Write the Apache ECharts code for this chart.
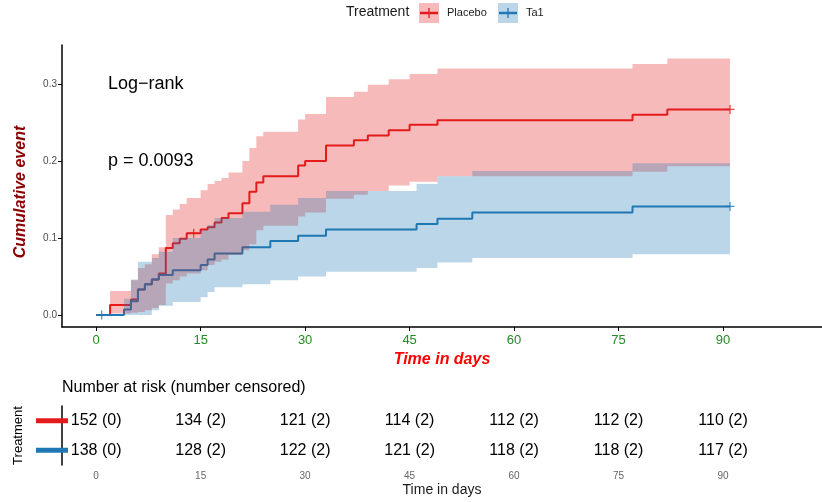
<!DOCTYPE html>
<html>
<head>
<meta charset="utf-8">
<script src="https://cdn.jsdelivr.net/npm/echarts@6/dist/echarts.min.js"></script>
<style>
  html, body { margin: 0; padding: 0; background: #fff; }
  #chart { width: 822px; height: 502px; }
</style>
</head>
<body>
<div id="chart"></div>
<script>
// cumulative event curves (day where each step starts)
var placeboTime = [0, 2, 5, 6, 7, 8, 9, 10, 11, 12, 13, 15, 16, 17, 18, 19, 21, 22, 23, 24, 29, 30, 33, 37, 39, 42, 45, 49, 77, 82, 91];
var placeboEst  = [0, 0.013, 0.020, 0.033, 0.040, 0.046, 0.054, 0.087, 0.093, 0.099, 0.106, 0.111, 0.114, 0.120, 0.126, 0.132, 0.145, 0.160, 0.172, 0.180, 0.194, 0.200, 0.220, 0.227, 0.233, 0.240, 0.247, 0.253, 0.260, 0.267, 0.267];
var placeboLo   = [0, 0.002, 0.003, 0.004, 0.006, 0.009, 0.013, 0.041, 0.045, 0.050, 0.054, 0.058, 0.065, 0.069, 0.072, 0.078, 0.084, 0.092, 0.110, 0.116, 0.128, 0.133, 0.151, 0.156, 0.161, 0.168, 0.173, 0.180, 0.186, 0.193, 0.193];
var placeboHi   = [0, 0.031, 0.045, 0.061, 0.066, 0.079, 0.088, 0.130, 0.137, 0.144, 0.152, 0.162, 0.170, 0.174, 0.178, 0.185, 0.200, 0.217, 0.232, 0.238, 0.254, 0.261, 0.283, 0.290, 0.299, 0.306, 0.313, 0.320, 0.326, 0.333, 0.333];

var ta1Time = [0, 4, 5, 6, 7, 8, 9, 11, 15, 16, 17, 21, 25, 29, 33, 46, 49, 54, 77, 91];
var ta1Est  = [0, 0.007, 0.018, 0.033, 0.040, 0.046, 0.052, 0.058, 0.065, 0.072, 0.080, 0.088, 0.096, 0.103, 0.111, 0.118, 0.125, 0.133, 0.141, 0.141];
var ta1Lo   = [0, 0, 0, 0, 0, 0.006, 0.012, 0.017, 0.023, 0.030, 0.036, 0.040, 0.045, 0.050, 0.056, 0.061, 0.068, 0.074, 0.079, 0.079];
var ta1Hi   = [0, 0.021, 0.046, 0.069, 0.069, 0.074, 0.082, 0.100, 0.110, 0.117, 0.126, 0.134, 0.143, 0.152, 0.161, 0.170, 0.180, 0.187, 0.197, 0.197];

var placeboCensor = [[14, 0.106], [91, 0.267]];
var ta1Censor = [[0.8, 0], [91, 0.141]];

var pvalText = ['Log\u2212rank', 'p = 0.0093'];
var pvalAt = [[1.7, 0.3], [1.7, 0.2]];

var timeTicks = [0, 15, 30, 45, 60, 75, 90];
var yTicks = [0, 0.1, 0.2, 0.3];

// risk table
var riskDays = [0, 15, 30, 45, 60, 75, 90];
var placeboRisk = [152, 134, 121, 114, 112, 112, 110];
var placeboCens = [0, 2, 2, 2, 2, 2, 2];
var ta1Risk = [138, 128, 122, 121, 118, 118, 117];
var ta1Cens = [0, 2, 2, 2, 2, 2, 2];

var red = '#E41A1C';
var blue = '#1F78B4';
var redFill = 'rgba(228,26,28,0.3)';
var blueFill = 'rgba(31,120,180,0.3)';
var plusPath = 'path://M0,4.3h10v1.4h-10z M4.3,0h1.4v10h-1.4z';

var mychart = echarts.init(document.getElementById('chart'));

function stepLine(time, est, color) {
  return {
    type: 'line', step: 'end', xAxisIndex: 0, yAxisIndex: 0, z: 2,
    symbol: 'none', silent: true,
    lineStyle: { color: color, width: 2 },
    itemStyle: { color: color },
    data: time.map(function (t, i) { return [t, est[i]]; })
  };
}

function band(time, lo, hi, fill) {
  return {
    type: 'custom', xAxisIndex: 0, yAxisIndex: 0, z: 3, silent: true,
    data: [[time[0], lo[0]]],
    renderItem: function (params, api) {
      var pts = [];
      for (var i = 0; i < time.length - 1; i++) {
        pts.push(api.coord([time[i], hi[i]]));
        pts.push(api.coord([time[i + 1], hi[i]]));
      }
      for (var j = time.length - 2; j >= 0; j--) {
        pts.push(api.coord([time[j + 1], lo[j]]));
        pts.push(api.coord([time[j], lo[j]]));
      }
      return { type: 'polygon', shape: { points: pts }, style: { fill: fill } };
    }
  };
}

function censor(points, color) {
  return {
    type: 'scatter', xAxisIndex: 0, yAxisIndex: 0, z: 2, silent: true,
    symbol: plusPath, symbolSize: 9,
    itemStyle: { color: color },
    data: points
  };
}

function textSeries(xi, yi, points, texts, size, align) {
  return {
    type: 'custom', xAxisIndex: xi, yAxisIndex: yi, z: 5, silent: true,
    data: points,
    renderItem: function (params, api) {
      var p = api.coord([api.value(0), api.value(1)]);
      return {
        type: 'text', x: p[0], y: p[1],
        style: {
          text: texts[params.dataIndex], fill: '#000', fontSize: size,
          fontFamily: 'Liberation Sans', align: align, verticalAlign: 'middle'
        }
      };
    }
  };
}

var placeboLabels = placeboRisk.map(function (n, i) { return n + ' (' + placeboCens[i] + ')'; });
var ta1Labels = ta1Risk.map(function (n, i) { return n + ' (' + ta1Cens[i] + ')'; });

var option = {
  animation: false,
  textStyle: { fontFamily: 'Liberation Sans' },
  title: {
    text: 'Number at risk (number censored)',
    left: 62, top: 380, padding: 0,
    textStyle: { fontSize: 16, fontWeight: 'normal', color: '#000' }
  },
  grid: [
    { left: 62, right: 0, top: 45, height: 282 },
    { left: 62, right: 0, top: 406, height: 59 }
  ],
  xAxis: [
    {
      type: 'value', gridIndex: 0, min: -4.9, max: 104.2,
      axisLine: { onZero: false, lineStyle: { color: '#000', width: 1.5 } },
      axisTick: { customValues: timeTicks, length: 4, lineStyle: { color: '#000' } },
      axisLabel: { customValues: timeTicks, color: '#228B22', fontSize: 13, margin: 7 },
      splitLine: { show: false },
      name: 'Time in days', nameLocation: 'middle', nameGap: 22,
      nameTextStyle: { color: '#FF0000', fontSize: 16, fontWeight: 'bold', fontStyle: 'italic' }
    },
    {
      type: 'value', gridIndex: 1, min: -4.9, max: 104.2,
      axisLine: { onZero: false, lineStyle: { color: '#000', width: 1.5 } },
      axisTick: { customValues: timeTicks, length: 4, lineStyle: { color: '#000' } },
      axisLabel: { customValues: timeTicks, color: '#666', fontSize: 10, margin: 6 },
      splitLine: { show: false },
      name: 'Time in days', nameLocation: 'middle', nameGap: 18,
      nameTextStyle: { color: '#1a1a1a', fontSize: 14 }
    }
  ],
  yAxis: [
    {
      type: 'value', gridIndex: 0, min: -0.0156, max: 0.3506,
      axisLine: { show: true, onZero: false, lineStyle: { color: '#000', width: 1.5 } },
      axisTick: { show: true, customValues: yTicks, length: 4, lineStyle: { color: '#000' } },
      axisLabel: {
        customValues: yTicks, color: '#4d4d4d', fontSize: 10, margin: 5,
        formatter: function (v) { return v.toFixed(1); }
      },
      splitLine: { show: false },
      name: 'Cumulative event', nameLocation: 'middle', nameGap: 33, nameRotate: 90,
      nameTextStyle: {
        color: '#8B0000', fontSize: 16, fontWeight: 'bold', fontStyle: 'italic',
        padding: [0, 12, 0, 0]
      }
    },
    {
      type: 'category', gridIndex: 1, data: ['Ta1', 'Placebo'],
      axisLine: { show: true, onZero: false, lineStyle: { color: '#000', width: 1.5 } },
      axisTick: { show: false },
      axisLabel: {
        margin: -6,
        formatter: function (v) { return '{' + v + '| }'; },
        rich: {
          Placebo: { backgroundColor: red, width: 32, height: 5, lineHeight: 5, fontSize: 1 },
          Ta1: { backgroundColor: blue, width: 32, height: 5, lineHeight: 5, fontSize: 1 }
        }
      },
      name: 'Treatment', nameLocation: 'middle', nameGap: 32, nameRotate: 90,
      nameTextStyle: { color: '#000', fontSize: 13 }
    }
  ],
  graphic: [
    { type: 'text', left: 346, top: 5, style: { text: 'Treatment', fontSize: 14, fill: '#1a1a1a', fontFamily: 'Liberation Sans' } },
    { type: 'rect', shape: { x: 419, y: 3, width: 20, height: 20 }, style: { fill: redFill } },
    { type: 'line', shape: { x1: 420, y1: 13, x2: 438, y2: 13 }, style: { stroke: red, lineWidth: 2.5 } },
    { type: 'line', shape: { x1: 429, y1: 8, x2: 429, y2: 18 }, style: { stroke: red, lineWidth: 1.3 } },
    { type: 'text', left: 447, top: 7, style: { text: 'Placebo', fontSize: 11, fill: '#1a1a1a', fontFamily: 'Liberation Sans' } },
    { type: 'rect', shape: { x: 498, y: 3, width: 20, height: 20 }, style: { fill: blueFill } },
    { type: 'line', shape: { x1: 499, y1: 13, x2: 517, y2: 13 }, style: { stroke: blue, lineWidth: 2.5 } },
    { type: 'line', shape: { x1: 508, y1: 8, x2: 508, y2: 18 }, style: { stroke: blue, lineWidth: 1.3 } },
    { type: 'text', left: 526, top: 7, style: { text: 'Ta1', fontSize: 11, fill: '#1a1a1a', fontFamily: 'Liberation Sans' } }
  ],
  series: [
    stepLine(placeboTime, placeboEst, red),
    stepLine(ta1Time, ta1Est, blue),
    censor(placeboCensor, red),
    censor(ta1Censor, blue),
    band(placeboTime, placeboLo, placeboHi, redFill),
    band(ta1Time, ta1Lo, ta1Hi, blueFill),
    textSeries(0, 0, pvalAt, pvalText, 18, 'left'),
    textSeries(1, 1, riskDays.map(function (d) { return [d, 'Placebo']; }), placeboLabels, 16, 'center'),
    textSeries(1, 1, riskDays.map(function (d) { return [d, 'Ta1']; }), ta1Labels, 16, 'center')
  ]
};

mychart.setOption(option);
</script>
</body>
</html>
